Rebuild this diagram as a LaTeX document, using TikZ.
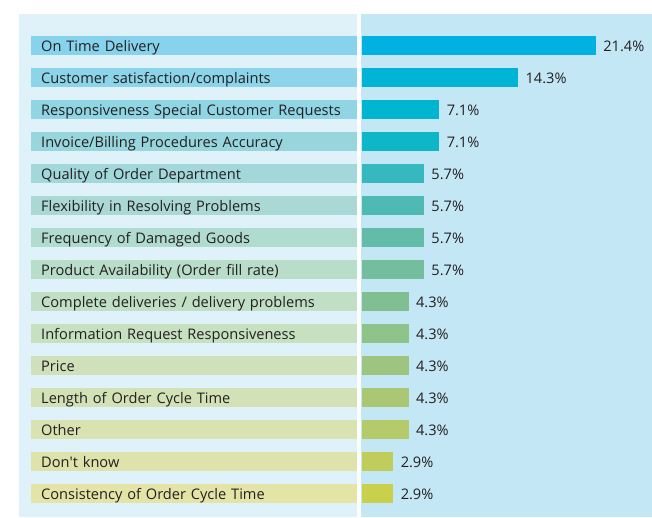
\documentclass[tikz,border=0pt]{standalone}
\usepackage{fontspec}
\setmainfont{Open Sans}
\usetikzlibrary{positioning}

\definecolor{txtgray}{HTML}{231F20}
\definecolor{leftbg}{HTML}{DFF1F9}
\definecolor{rightbg}{HTML}{C4E7F6}

\begin{document}
\begin{tikzpicture}[x=1pt, y=-1pt, font=\fontsize{14.6}{18}\selectfont]

\tikzstyle{labelbar}=[anchor=west, inner xsep=10pt, inner ysep=0pt, text width=306pt, align=left, text height=15pt, text depth=4pt, text=txtgray]
\tikzstyle{valuebar}=[inner sep=0pt, minimum height=19pt]
\tikzstyle{pct}=[inner sep=0pt, text height=15pt, text depth=4pt, text=txtgray]

\useasboundingbox (0,0) rectangle (652,517);

% panels
\fill[leftbg] (19,14) rectangle (357,517);
\fill[rightbg] (361,14) rectangle (652,517);

% bars
\foreach \i/\name/\val/\lc/\vc in {
  1/On Time Delivery/21.4/87D3EE/00B1E2,
  2/{Customer satisfaction/complaints}/14.3/8CD4EA/00B4D8,
  3/Responsiveness Special Customer Requests/7.1/90D5E4/00B5D0,
  4/{Invoice/Billing Procedures Accuracy}/7.1/98D6DE/0DB7C8,
  5/Quality of Order Department/5.7/A3D8DB/35B8BE,
  6/Flexibility in Resolving Problems/5.7/AAD9D5/4FBAB4,
  7/Frequency of Damaged Goods/5.7/B0DCD0/63BCA8,
  8/Product Availability (Order fill rate)/5.7/B8DDC9/74BE9E,
  9/{Complete deliveries / delivery problems}/4.3/C0DFC4/80BF92,
  10/Information Request Responsiveness/4.3/C6E0C0/8EC38A,
  11/Price/4.3/CEE1BA/9DC57F,
  12/Length of Order Cycle Time/4.3/D3E2B6/AAC774,
  13/Other/4.3/D9E3B1/B5CA6A,
  14/Don\textquotesingle t know/2.9/DEE3AC/C0CD5C,
  15/Consistency of Order Cycle Time/2.9/E4E4A6/C9D04B}
{
  \definecolor{lc}{HTML}{\lc}
  \definecolor{vc}{HTML}{\vc}
  \node(lab\i)[style=labelbar, fill=lc] at (31, 13.5+32*\i) {\mbox{\name}};
  \node(bar\i)[style=valuebar, fill=vc, minimum width=\val*10.95pt, right=4pt of lab\i] {};
  \node(pct\i)[style=pct, right=7pt of bar\i] {\val\%};
}

\end{tikzpicture}
\end{document}
